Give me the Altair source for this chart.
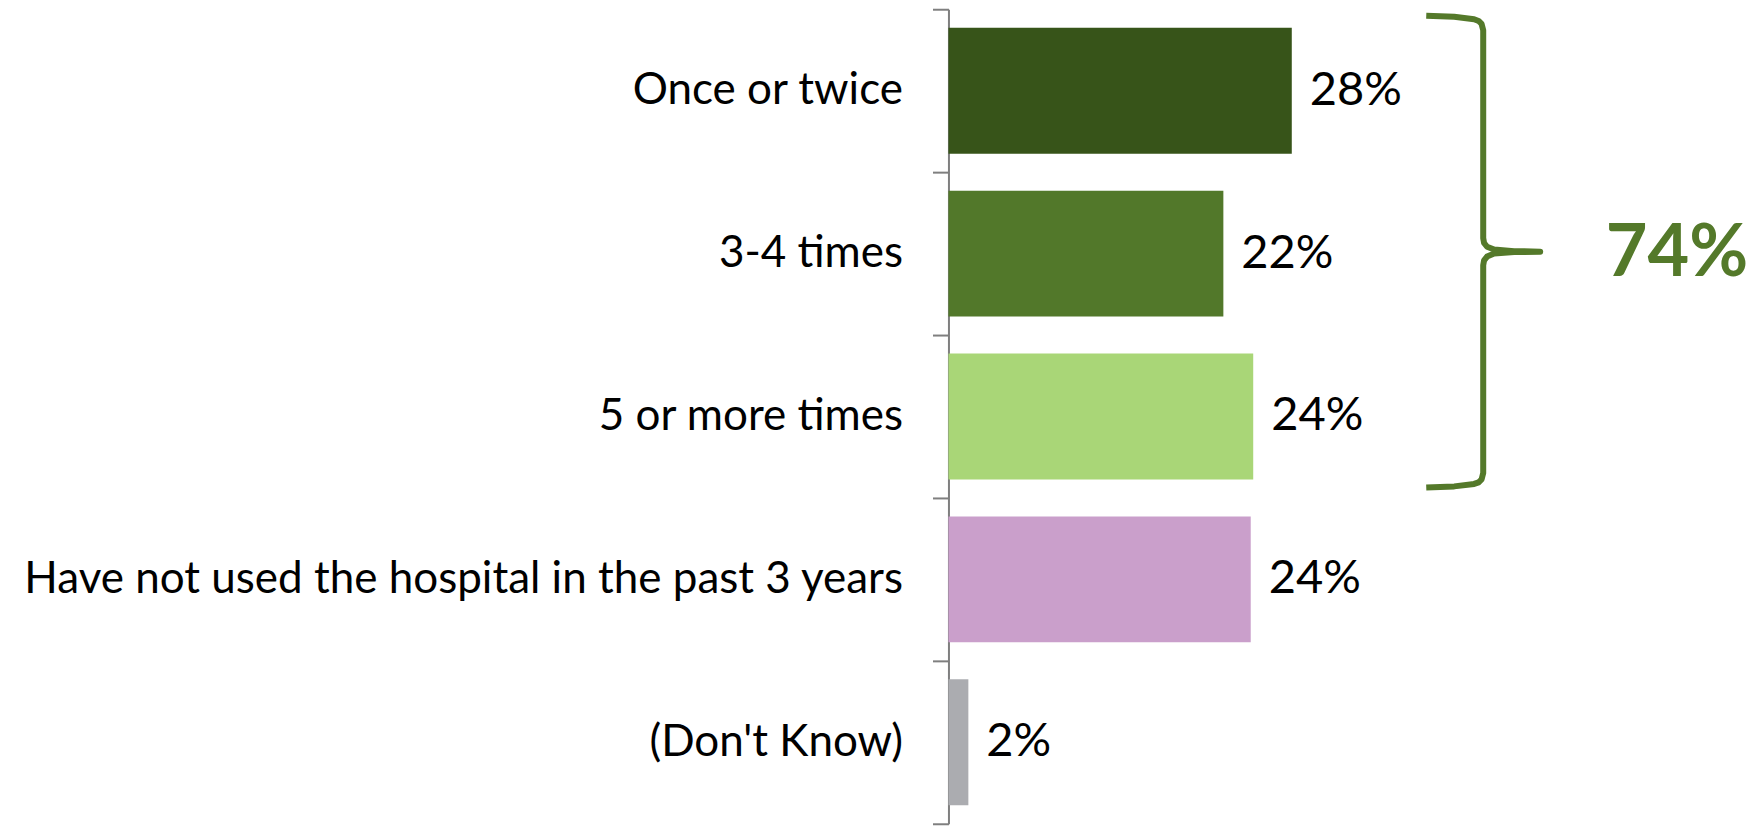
import altair as alt
import pandas as pd

# ---- data ----
categories = [
    "Once or twice",
    "3-4 times",
    "5 or more times",
    "Have not used the hospital in the past 3 years",
    "(Don't Know)",
]
values = [27.6, 22.1, 24.5, 24.3, 1.6]
value_labels = ["28%", "22%", "24%", "24%", "2%"]
bar_colors = ["#375419", "#52782A", "#A9D677", "#CA9FCB", "#ABACB0"]

# the bracketed group (first three answers) and its total
bracket_group = categories[:3]
bracket_total = sum(int(l.rstrip("%")) for l in value_labels[:3])
bracket_label = f"{bracket_total}%"

# curly-brace outline: x in % units, y in category-row units (0 = top)
brace_x = [38.41, 40.66, 42.26, 42.62, 42.86, 42.99, 42.99, 43.06, 43.30, 43.87, 45.48, 47.57,
           45.48, 43.87, 43.30, 43.06, 42.99, 42.99, 42.86, 42.62, 42.26, 40.66, 38.41]
brace_y = [0.040, 0.046, 0.061, 0.072, 0.090, 0.129, 1.405, 1.435, 1.458, 1.475, 1.485, 1.488,
           1.491, 1.500, 1.518, 1.541, 1.571, 2.847, 2.886, 2.904, 2.914, 2.929, 2.936]
total_x = [52.85]

GREEN = "#54792A"
FONT = "Lato"

df = pd.DataFrame({"category": categories, "value": values, "label": value_labels})
brace_df = pd.DataFrame({"i": list(range(len(brace_x))), "bx": brace_x, "by": brace_y})
total_df = pd.DataFrame({"tx": total_x, "ty": [len(bracket_group) / 2], "t": [bracket_label]})

xscale = alt.Scale(domain=[0, 65], nice=False, zero=True)
yband = alt.Scale(domain=categories, paddingInner=0, paddingOuter=0)

yaxis = alt.Axis(
    title=None,
    tickBand="extent",
    domainColor="#7F7F7F",
    domainWidth=2,
    tickColor="#7F7F7F",
    tickWidth=2,
    tickSize=16,
    labelFont=FONT,
    labelFontSize=44,
    labelColor="#000000",
    labelPadding=30,
    labelLimit=1200,
)

base = alt.Chart(df)
bars = base.mark_bar(height={"band": 0.773}).encode(
    y=alt.Y("category:N", sort=categories, scale=yband, axis=yaxis),
    x=alt.X("value:Q", scale=xscale, axis=None),
    color=alt.Color(
        "category:N", scale=alt.Scale(domain=categories, range=bar_colors), legend=None
    ),
)
labels = base.mark_text(
    align="left", baseline="middle", dx=18, fontSize=47, font=FONT, color="#000000"
).encode(
    y=alt.Y("category:N", sort=categories, scale=yband, axis=yaxis),
    x=alt.X("value:Q", scale=xscale, axis=None),
    text="label:N",
)

yunits = alt.Scale(domain=[0, len(categories)], reverse=True, nice=False, zero=False)
brace = alt.Chart(brace_df).mark_line(
    color=GREEN, strokeWidth=6, strokeJoin="round", strokeCap="butt"
).encode(
    x=alt.X("bx:Q", scale=xscale, axis=None),
    y=alt.Y("by:Q", scale=yunits, axis=None),
    order="i:Q",
)
total = alt.Chart(total_df).mark_text(
    align="left", baseline="middle", fontSize=72, fontWeight="bold", font=FONT, color=GREEN
).encode(
    x=alt.X("tx:Q", scale=xscale, axis=None),
    y=alt.Y("ty:Q", scale=yunits, axis=None),
    text="t:N",
)

chart = (
    alt.layer(alt.layer(bars, labels), alt.layer(brace, total))
    .resolve_scale(y="independent")
    .properties(
        width=809,
        height=815,
        padding={"left": 949, "top": 9, "right": 0, "bottom": 2},
        autosize=alt.AutoSizeParams(type="none"),
        background="#ffffff",
    )
    .configure_view(stroke=None)
)

chart.save("out.html", embed_options={"renderer": "svg", "actions": False})
